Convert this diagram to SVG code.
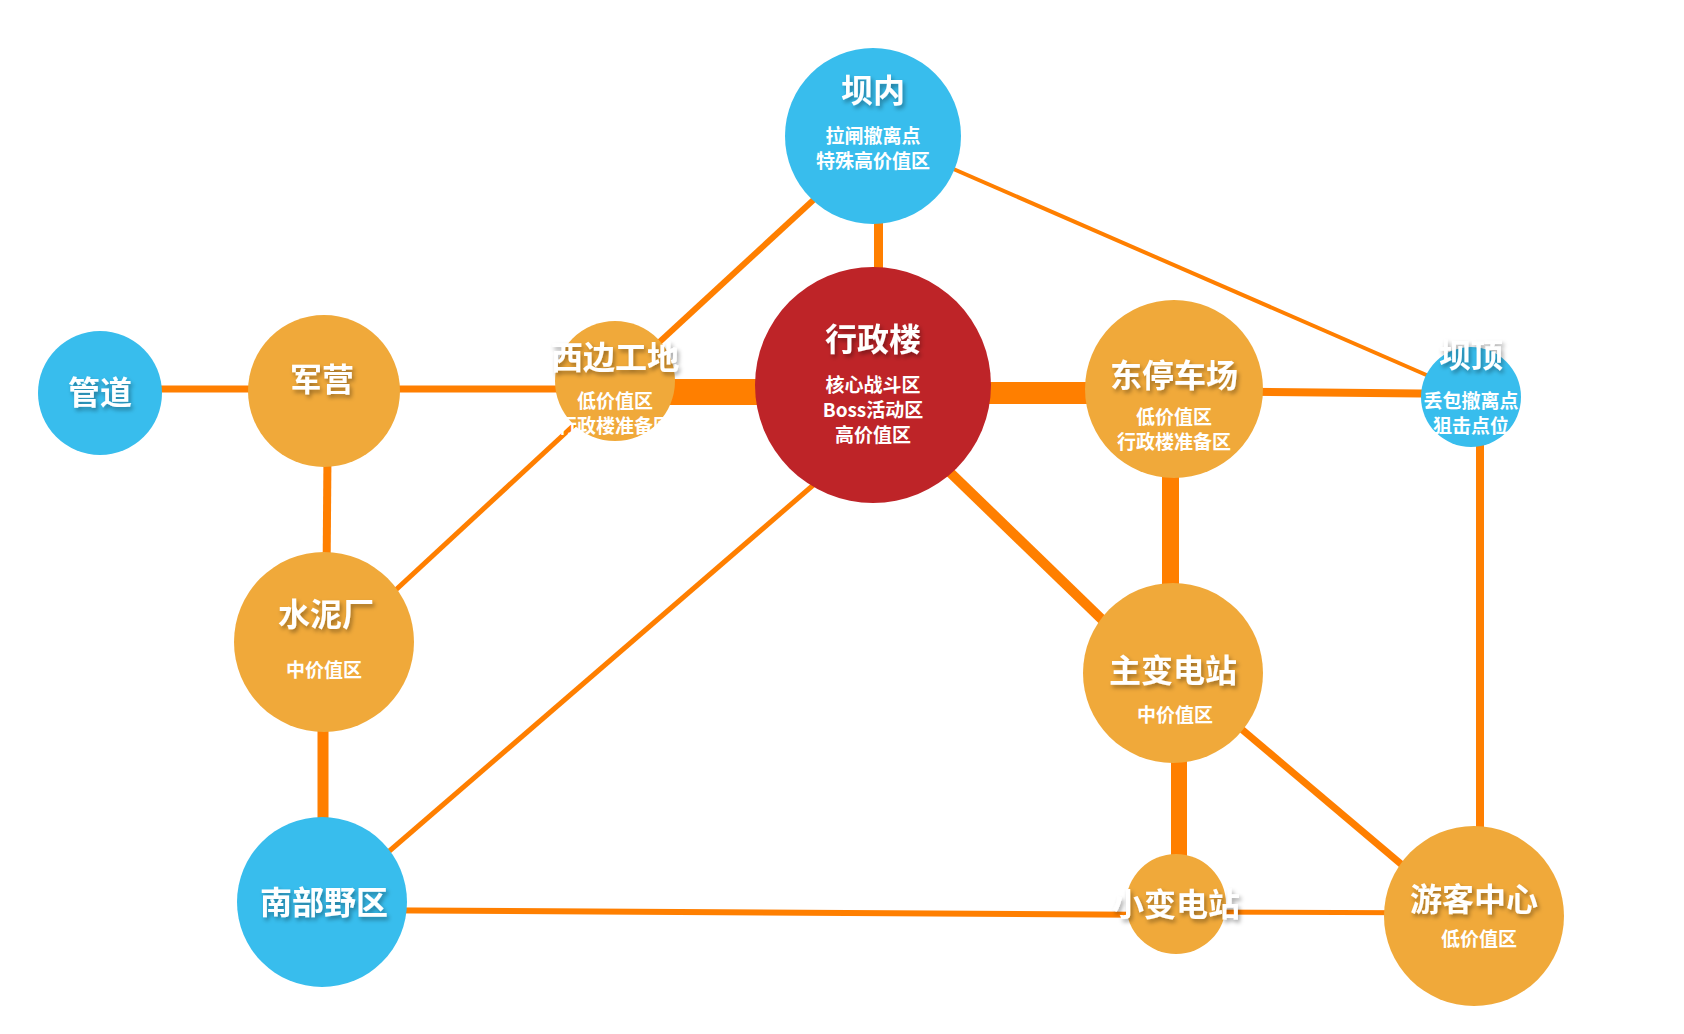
<svg xmlns="http://www.w3.org/2000/svg" width="1684" height="1034" viewBox="0 0 1684 1034">
<defs>
<filter id="sh" x="-20%" y="-40%" width="140%" height="180%">
<feDropShadow dx="2" dy="3" stdDeviation="2" flood-color="#000" flood-opacity="0.35"/>
</filter>
<style>
.e{stroke:#FF7F00;fill:none;stroke-linecap:butt}
.blue{fill:#38BDED}
.gold{fill:#F0A93A}
.red{fill:#BE2428}
.t{font-family:"Noto Sans CJK SC","Noto Sans",sans-serif;font-weight:bold;fill:#fff;text-anchor:middle;dominant-baseline:central}
.tt{font-size:32px;filter:url(#sh)}
.st{font-size:19px}
</style>
</defs>
<rect width="1684" height="1034" fill="#fff"/>
<g id="connectors">
<line class="e" x1="100" y1="389" x2="324" y2="389" stroke-width="7"/>
<line class="e" x1="324" y1="389" x2="615" y2="389" stroke-width="7"/>
<line class="e" x1="615" y1="392" x2="873" y2="392" stroke-width="26"/>
<line class="e" x1="873" y1="393" x2="1173" y2="393" stroke-width="22"/>
<line class="e" x1="1173" y1="391" x2="1470" y2="394" stroke-width="8"/>
<line class="e" x1="878.5" y1="136" x2="878.5" y2="385" stroke-width="9"/>
<line class="e" x1="873" y1="145" x2="615" y2="383" stroke-width="6"/>
<line class="e" x1="873" y1="134" x2="1470" y2="394" stroke-width="4"/>
<line class="e" x1="328" y1="391" x2="326" y2="641" stroke-width="8"/>
<line class="e" x1="360" y1="623" x2="600" y2="401" stroke-width="5"/>
<line class="e" x1="323" y1="641" x2="323" y2="902" stroke-width="11"/>
<line class="e" x1="350" y1="885" x2="840" y2="462" stroke-width="5"/>
<line class="e" x1="322" y1="910" x2="1176" y2="915" stroke-width="6"/>
<line class="e" x1="1176" y1="912" x2="1474" y2="913" stroke-width="5"/>
<line class="e" x1="900" y1="424" x2="1150" y2="666" stroke-width="10"/>
<line class="e" x1="1170.5" y1="389" x2="1170.5" y2="673" stroke-width="17"/>
<line class="e" x1="1179" y1="673" x2="1179" y2="905" stroke-width="16"/>
<line class="e" x1="1200" y1="694" x2="1440" y2="897" stroke-width="7"/>
<line class="e" x1="1480" y1="397" x2="1480" y2="915" stroke-width="8"/>
</g>
<g id="n-bannei">
<circle class="blue" cx="873" cy="136" r="88"/>
<text class="t tt" x="873" y="88">坝内</text>
<text class="t st" x="873" y="134">拉闸撤离点</text>
<text class="t st" x="873" y="159">特殊高价值区</text>
</g>
<g id="n-xingzheng">
<circle class="red" cx="873" cy="385" r="118"/>
<text class="t tt" x="873" y="337">行政楼</text>
<text class="t st" x="873" y="383">核心战斗区</text>
<text class="t st" x="873" y="408">Boss活动区</text>
<text class="t st" x="873" y="433">高价值区</text>
</g>
<g id="n-xibian">
<circle class="gold" cx="615" cy="381" r="60"/>
<text class="t tt" x="615" y="355">西边工地</text>
<text class="t st" x="615" y="399">低价值区</text>
<text class="t st" x="615" y="424">行政楼准备区</text>
</g>
<g id="n-dongting">
<circle class="gold" cx="1174" cy="389" r="89"/>
<text class="t tt" x="1174" y="373">东停车场</text>
<text class="t st" x="1174" y="415">低价值区</text>
<text class="t st" x="1174" y="440">行政楼准备区</text>
</g>
<g id="n-bading">
<circle class="blue" cx="1471" cy="397" r="50"/>
<text class="t tt" x="1471" y="353">坝顶</text>
<text class="t st" x="1471" y="399">丢包撤离点</text>
<text class="t st" x="1471" y="424">狙击点位</text>
</g>
<g id="n-guandao">
<circle class="blue" cx="100" cy="393" r="62"/>
<text class="t tt" x="100" y="390">管道</text>
</g>
<g id="n-junying">
<circle class="gold" cx="324" cy="391" r="76"/>
<text class="t tt" x="322" y="377">军营</text>
</g>
<g id="n-shuini">
<circle class="gold" cx="324" cy="642" r="90"/>
<text class="t tt" x="326" y="612">水泥厂</text>
<text class="t st" x="324" y="668">中价值区</text>
</g>
<g id="n-nanbu">
<circle class="blue" cx="322" cy="902" r="85"/>
<text class="t tt" x="324" y="900">南部野区</text>
</g>
<g id="n-zhubian">
<circle class="gold" cx="1173" cy="673" r="90"/>
<text class="t tt" x="1173" y="668">主变电站</text>
<text class="t st" x="1175" y="713">中价值区</text>
</g>
<g id="n-xiaobian">
<circle class="gold" cx="1176" cy="904" r="50"/>
<text class="t tt" x="1176" y="902">小变电站</text>
</g>
<g id="n-youke">
<circle class="gold" cx="1474" cy="916" r="90"/>
<text class="t tt" x="1474" y="897">游客中心</text>
<text class="t st" x="1479" y="937">低价值区</text>
</g>
</svg>
